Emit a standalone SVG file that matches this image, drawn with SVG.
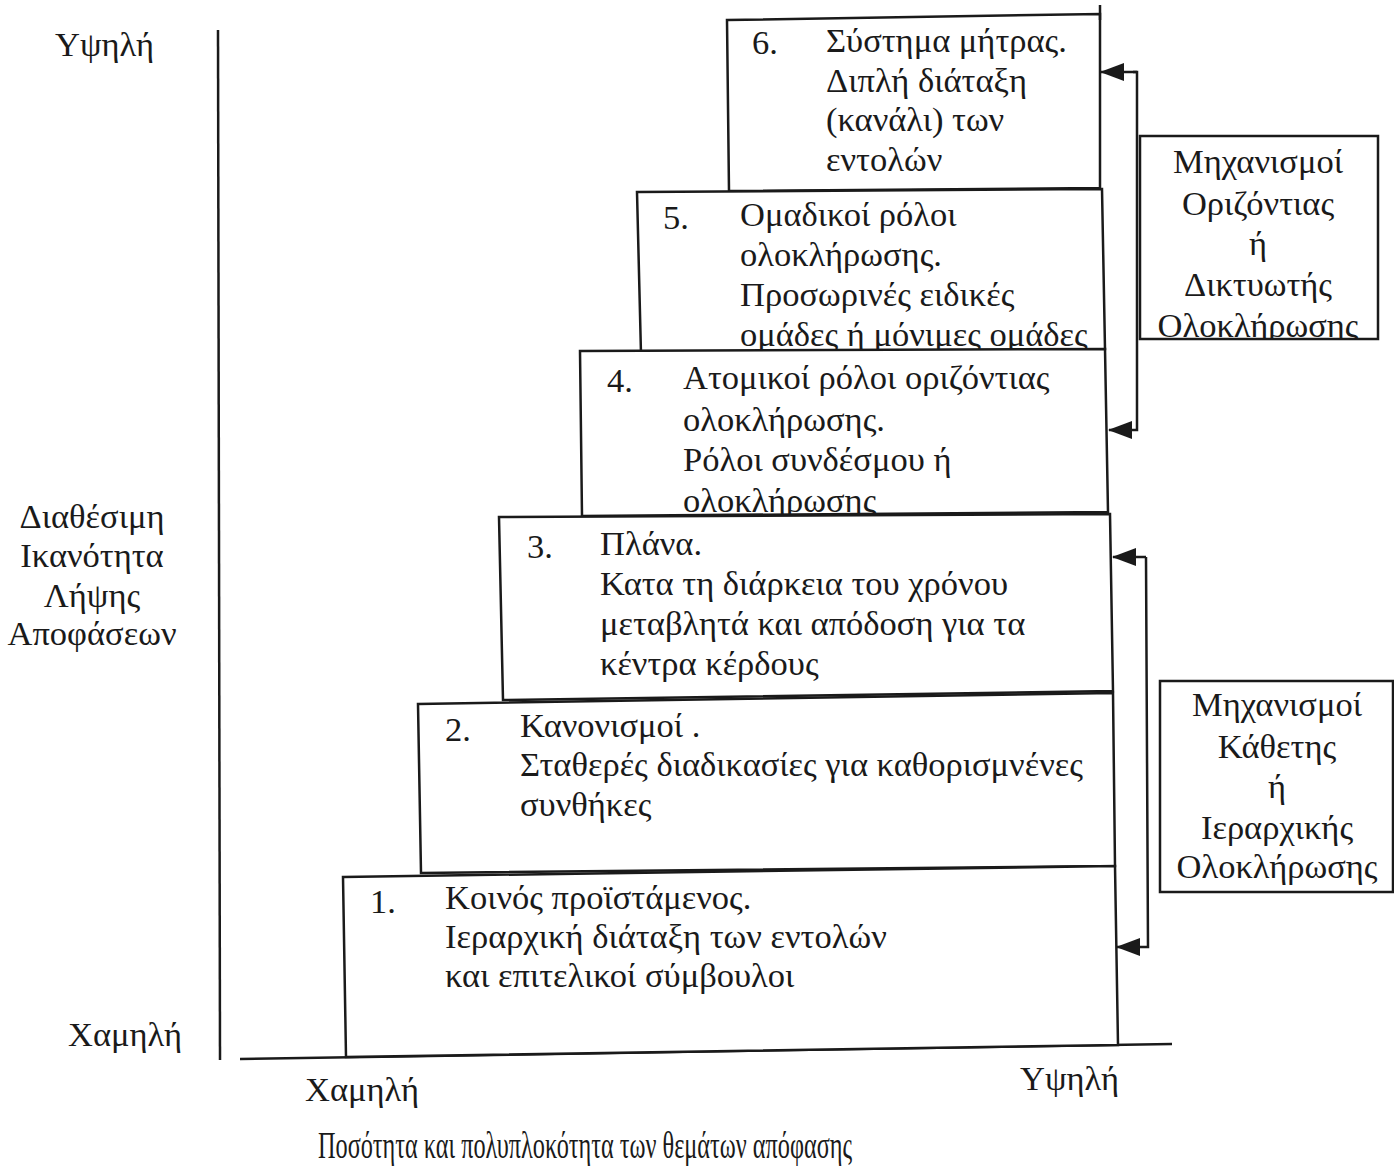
<svg xmlns="http://www.w3.org/2000/svg" width="1394" height="1166" viewBox="0 0 1394 1166">
<style>
text{font-family:"Liberation Serif","Times New Roman",serif;font-size:34.5px;fill:#1a1a1a}
.box{fill:#fff;stroke:#1a1a1a;stroke-width:2.5}
.ax{fill:none;stroke:#1a1a1a;stroke-width:2.5}
.c{text-anchor:middle}
.con{fill:none;stroke:#1a1a1a;stroke-width:2.5}
</style>
<defs>
<marker id="ah" markerWidth="24" markerHeight="18" refX="23" refY="9" orient="auto" markerUnits="userSpaceOnUse" viewBox="0 0 24 18">
<path d="M0,0 L24,9 L0,18 Z" fill="#1a1a1a"/>
</marker>
<clipPath id="clipH"><rect x="1140" y="136" width="240" height="204"/></clipPath>
</defs>
<g id="axes">
<line class="ax" x1="218" y1="30" x2="220" y2="1060"/>
<line class="ax" x1="240" y1="1059" x2="1172" y2="1044"/>
<text x="55" y="56">Υψηλή</text>
<text class="c" x="92" y="528">Διαθέσιμη</text>
<text class="c" x="92" y="567">Ικανότητα</text>
<text class="c" x="92" y="607">Λήψης</text>
<text class="c" x="92" y="645">Αποφάσεων</text>
<text x="68" y="1046">Χαμηλή</text>
<text x="305" y="1101">Χαμηλή</text>
<text x="1020" y="1090">Υψηλή</text>
<text x="318" y="1158" style="font-size:38px" textLength="534" lengthAdjust="spacingAndGlyphs">Ποσότητα  και πολυπλοκότητα των θεμάτων απόφασης</text>
</g>
<g id="node6">
<path class="box" d="M727,20 L1100,14 L1100,188 L729,191 Z"/>
<line class="ax" x1="1100" y1="5" x2="1100" y2="20"/>
<text x="752" y="54">6.</text>
<text x="826" y="52">Σύστημα μήτρας.</text>
<text x="826" y="92">Διπλή διάταξη</text>
<text x="826" y="131">(κανάλι) των</text>
<text x="826" y="171">εντολών</text>
</g>
<g id="node5">
<path class="box" d="M637,192 L1102,189 L1105,349 L641,354 Z"/>
<text x="663" y="229">5.</text>
<text x="740" y="226">Ομαδικοί ρόλοι</text>
<text x="740" y="266">ολοκλήρωσης.</text>
<text x="740" y="306">Προσωρινές ειδικές</text>
<text x="740" y="346">ομάδες ή μόνιμες ομάδες</text>
</g>
<g id="node4">
<path class="box" d="M580,351 L1105,349 L1108,512 L582,516 Z"/>
<text x="607" y="392">4.</text>
<text x="683" y="389">Ατομικοί ρόλοι οριζόντιας</text>
<text x="683" y="431">ολοκλήρωσης.</text>
<text x="683" y="471">Ρόλοι συνδέσμου ή</text>
<text x="683" y="512">ολοκλήρωσης</text>
</g>
<g id="node3">
<path class="box" d="M499,517 L1110,514 L1113,691 L503,700 Z"/>
<text x="527" y="558">3.</text>
<text x="600" y="555">Πλάνα.</text>
<text x="600" y="595">Κατα τη διάρκεια του χρόνου</text>
<text x="600" y="635">μεταβλητά και απόδοση για τα</text>
<text x="600" y="675">κέντρα κέρδους</text>
</g>
<g id="node2">
<path class="box" d="M418,704 L1113,693 L1115,866 L421,873 Z"/>
<text x="445" y="741">2.</text>
<text x="520" y="737">Κανονισμοί .</text>
<text x="520" y="776">Σταθερές διαδικασίες για καθορισμνένες</text>
<text x="520" y="816">συνθήκες</text>
</g>
<g id="node1">
<path class="box" d="M343,877 L1115,866 L1118,1045 L346,1057 Z"/>
<text x="370" y="913">1.</text>
<text x="445" y="909">Κοινός προϊστάμενος.</text>
<text x="445" y="948">Ιεραρχική διάταξη των εντολών</text>
<text x="445" y="987">και επιτελικοί σύμβουλοι</text>
</g>
<g id="labelH">
<rect class="box" x="1140" y="136" width="238" height="203"/>
<g clip-path="url(#clipH)">
<text class="c" x="1258" y="173">Μηχανισμοί</text>
<text class="c" x="1258" y="215">Οριζόντιας</text>
<text class="c" x="1258" y="255">ή</text>
<text class="c" x="1258" y="296">Δικτυωτής</text>
<text class="c" x="1258" y="337">Ολοκλήρωσης</text>
</g>
</g>
<g id="labelV">
<rect class="box" x="1160" y="681" width="233" height="211"/>
<text class="c" x="1277" y="716">Μηχανισμοί</text>
<text class="c" x="1277" y="758">Κάθετης</text>
<text class="c" x="1277" y="798">ή</text>
<text class="c" x="1277" y="839">Ιεραρχικής</text>
<text class="c" x="1277" y="878">Ολοκλήρωσης</text>
</g>
<g id="connectors">
<polyline class="con" points="1133,72 1137,72 1137,430 1109,430" marker-end="url(#ah)"/>
<polyline class="con" points="1137,72 1101,72" marker-end="url(#ah)"/>
<polyline class="con" points="1146,557 1148,947 1117,947" marker-end="url(#ah)"/>
<polyline class="con" points="1146,557 1113,557" marker-end="url(#ah)"/>
</g>
</svg>
